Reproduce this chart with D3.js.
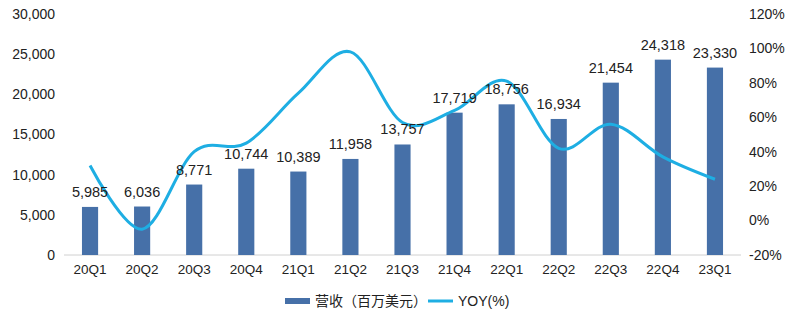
<!DOCTYPE html>
<html><head><meta charset="utf-8">
<script src="https://cdn.jsdelivr.net/npm/d3@7"></script>
<style>body{margin:0;background:#fff;}svg{display:block;font-family:"Liberation Sans",Arial,sans-serif;}</style>
</head><body>
<svg id="c" width="800" height="322"></svg>
<script>
const categories = ["20Q1","20Q2","20Q3","20Q4","21Q1","21Q2","21Q3","21Q4","22Q1","22Q2","22Q3","22Q4","23Q1"];
const revenue = [5985,6036,8771,10744,10389,11958,13757,17719,18756,16934,21454,24318,23330];
const yoy = [32,-5,40,45,74,98,57,64,81,42,56,37,24];
const leftTicks = [0,5000,10000,15000,20000,25000,30000];
const rightTicks = [-20,0,20,40,60,80,100,120];
const seriesNames = ["营收（百万美元）","YOY(%)"];

(function(){
const svg = d3.select("#c");
const plotTop = 14, plotBottom = 255, plotLeft = 64, plotRight = 741;
const x = d3.scaleBand().domain(categories).range([plotLeft, plotRight]).paddingInner(0.69).paddingOuter(0.345);
const y = d3.scaleLinear().domain([0,30000]).range([plotBottom, plotTop]);
const y2 = d3.scaleLinear().domain([-20,120]).range([plotBottom, plotTop]);
const barColor = "#4670a8", lineColor = "#1eaee3", textColor = "#222";

svg.append("g").selectAll("text").data(leftTicks).join("text")
  .attr("x", 55).attr("y", d => y(d)).attr("dy", "0.35em").attr("text-anchor","end")
  .attr("font-size", 14).attr("fill", textColor).text(d => d3.format(",")(d));
svg.append("g").selectAll("text").data(rightTicks).join("text")
  .attr("x", 749).attr("y", d => y2(d)).attr("dy", "0.35em").attr("text-anchor","start")
  .attr("font-size", 14).attr("fill", textColor).text(d => d + "%");

svg.append("line").attr("x1", plotLeft).attr("x2", plotRight).attr("y1", plotBottom).attr("y2", plotBottom)
  .attr("stroke", "#d0d0d0").attr("stroke-width", 1);

svg.append("g").selectAll("rect").data(revenue).join("rect")
  .attr("x", (d,i) => x(categories[i])).attr("width", x.bandwidth())
  .attr("y", d => y(d)).attr("height", d => plotBottom - y(d)).attr("fill", barColor);

svg.append("g").selectAll("text").data(categories).join("text")
  .attr("x", d => x(d) + x.bandwidth()/2).attr("y", 269).attr("dy","0.35em").attr("text-anchor","middle")
  .attr("font-size", 13.5).attr("fill", textColor).text(d => d);

const line = d3.line().x((d,i) => x(categories[i]) + x.bandwidth()/2).y(d => y2(d)).curve(d3.curveCardinal.tension(0));
svg.append("path").datum(yoy).attr("d", line).attr("fill","none").attr("stroke", lineColor).attr("stroke-width", 3);

svg.append("g").selectAll("text").data(revenue).join("text")
  .attr("x", (d,i) => x(categories[i]) + x.bandwidth()/2).attr("y", d => y(d) - 10)
  .attr("text-anchor","middle").attr("font-size", 14.5).attr("fill", textColor).text(d => d3.format(",")(d));

const lg = svg.append("g");
lg.append("rect").attr("x", 285).attr("y", 298).attr("width", 25).attr("height", 6).attr("fill", barColor);
lg.append("text").attr("x", 315).attr("y", 301).attr("dy","0.35em").attr("font-size", 14).attr("fill", textColor)
  .attr("font-family", "'Noto Sans CJK SC','Liberation Sans',sans-serif").text(seriesNames[0]);
lg.append("line").attr("x1", 428).attr("x2", 453).attr("y1", 301).attr("y2", 301).attr("stroke", lineColor).attr("stroke-width", 3);
lg.append("text").attr("x", 458).attr("y", 301).attr("dy","0.35em").attr("font-size", 14).attr("fill", textColor).text(seriesNames[1]);
})();
</script>
</body></html>
